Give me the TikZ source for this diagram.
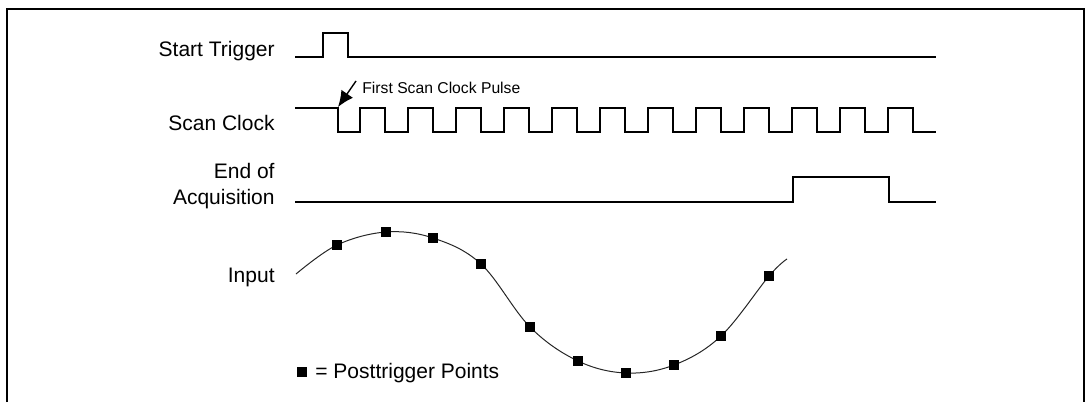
\documentclass[tikz,border=0pt]{standalone}
\usepackage{fontspec}
\setmainfont{Liberation Sans}
\usetikzlibrary{arrows.meta}
\begin{document}
\begin{tikzpicture}[x=0.5pt,y=-0.5pt,
  lbl/.style={inner sep=0pt,anchor=base east,font=\fontsize{10.5}{13}\selectfont},
  sig/.style={line width=0.65pt,black},
  pt/.style={fill=black,draw=none,minimum size=5.2pt,inner sep=0pt},
  wave/.style={line width=0.5pt,black!85}]
\useasboundingbox (0,0) rectangle (1086,402);
% frame
\draw[line width=1pt] (7,402) -- (7,9) -- (1084,9) -- (1084,402);
% labels
\node[lbl] (lst) at (275,56) {Start Trigger};
\node[lbl] (lsc) at (275,130) {Scan Clock};
\node[lbl,align=right] (leoa) at (275,204) {End of\\Acquisition};
\node[lbl] (lin) at (275,282) {Input};
% start trigger
\draw[sig] (295,57) -- (323,57) -- (323,33) -- (348,33) -- (348,57) -- (936,57);
% scan clock
\draw[sig] (295,108) -- (338,108) -- (338,132)
  \foreach \i in {0,...,11} { -- ({360+48*\i},132) -- ({360+48*\i},108) -- ({385+48*\i},108) -- ({385+48*\i},132) }
  -- (936,132);
% end of acquisition
\draw[sig] (295,202) -- (793,202) -- (793,177) -- (889,177) -- (889,202) -- (936,202);
% first scan clock pulse
\node[inner sep=0pt,anchor=base west,font=\fontsize{7.85}{9}\selectfont] (fscp) at (362,93) {First Scan Clock Pulse};
\coordinate (fscptail) at (356,81);
\coordinate (fscptip) at (338,107);
\draw[line width=0.7pt,-{Latex[length=8pt,width=7pt]}] (fscptail) -- (fscptip);
% input wave
\draw[wave] plot[smooth,tension=0.6] coordinates {(296,274) (337,245) (386,232) (433,238) (481,264) (530,327) (578,361) (626,373) (674,365) (721,336) (769,276) (787,259)};
\foreach \x/\y [count=\k] in {337/245,386/232,433/238,481/264,530/327,578/361,626/373,674/365,721/336,769/276}
  \node[pt] (p\k) at (\x,\y) {};
% legend
\node[pt] (legsq) at (302,372) {};
\node[inner sep=0pt,anchor=base west,font=\fontsize{10.5}{13}\selectfont] (legtxt) at (315,378) {= Posttrigger Points};
\end{tikzpicture}
\end{document}
